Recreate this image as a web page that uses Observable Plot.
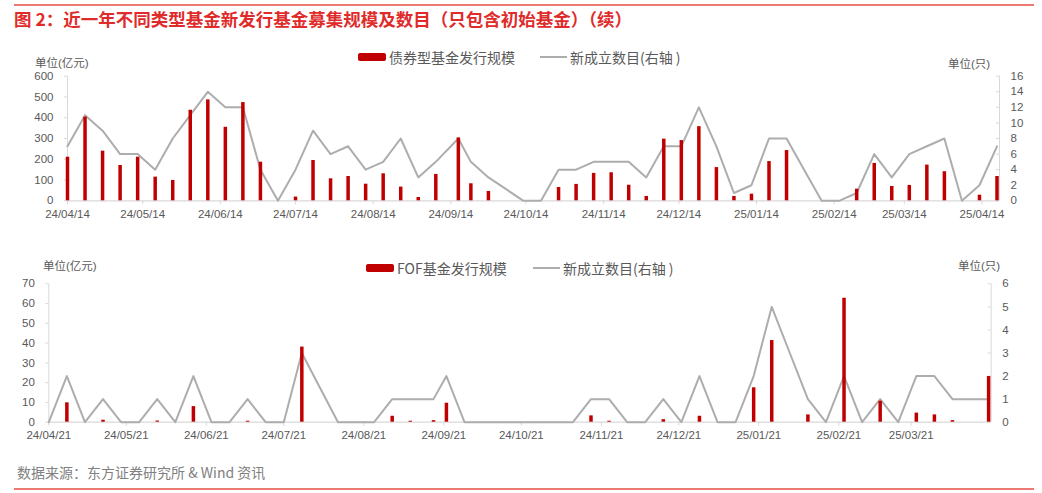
<!DOCTYPE html>
<html><head><meta charset="utf-8">
<script src="https://cdn.jsdelivr.net/npm/d3@7"></script>
<script src="https://cdn.jsdelivr.net/npm/@observablehq/plot@0.6"></script>
<style>
body{margin:0;background:#fff;width:1042px;height:493px;position:relative;overflow:hidden;font-family:"Liberation Sans","Noto Sans CJK SC",sans-serif;}
.abs{position:absolute;white-space:nowrap;}
.lg{font-size:14px;color:#595959;line-height:18px;font-family:"Noto Sans CJK SC","Liberation Sans",sans-serif;}
.unit{font-size:11.5px;color:#595959;line-height:12px;font-family:"Liberation Sans","Noto Sans CJK SC",sans-serif;}
</style></head><body>
<div class="abs" style="left:14px;top:4px;width:1020px;height:2px;background:#EC7A72"></div>
<div class="abs" style="left:14px;top:8px;font-size:17.5px;line-height:22px;color:#E02B2B;font-weight:bold;font-family:'Noto Sans CJK SC',sans-serif;">图 2：近一年不同类型基金新发行基金募集规模及数目（只包含初始基金）（续）</div>

<div class="abs" id="c1" style="left:0;top:45px;"></div>
<div class="abs" id="c2" style="left:0;top:250px;"></div>

<div class="abs" style="left:358px;top:53px;width:28px;height:8px;background:#C00000;border-radius:2px"></div>
<div class="abs lg" style="left:389px;top:48px;">债券型基金发行规模</div>
<div class="abs" style="left:540px;top:56px;width:27px;height:2px;background:#ADADAD"></div>
<div class="abs lg" style="left:570px;top:48px;">新成立数目(右轴 )</div>
<div class="abs unit" style="left:35px;top:57px;">单位(亿元)</div>
<div class="abs unit" style="left:948px;top:58px;">单位(只)</div>

<div class="abs" style="left:366px;top:264px;width:28px;height:8px;background:#C00000;border-radius:2px"></div>
<div class="abs lg" style="left:397px;top:259px;">FOF基金发行规模</div>
<div class="abs" style="left:533px;top:267px;width:27px;height:2px;background:#ADADAD"></div>
<div class="abs lg" style="left:563px;top:259px;">新成立数目(右轴 )</div>
<div class="abs unit" style="left:43px;top:260px;">单位(亿元)</div>
<div class="abs unit" style="left:958px;top:260px;">单位(只)</div>

<div class="abs" style="left:17px;top:463px;font-size:14px;line-height:18px;color:#808080;font-family:'Noto Sans CJK SC','Liberation Sans',sans-serif;">数据来源：东方证券研究所 &amp; Wind 资讯</div>
<div class="abs" style="left:14px;top:488px;width:1020px;height:2px;background:#EC7A72"></div>

<script>
const bondDates = ["2024-04-14","2024-04-21","2024-04-28","2024-05-05","2024-05-12","2024-05-19","2024-05-26","2024-06-02","2024-06-09","2024-06-16","2024-06-23","2024-06-30","2024-07-07","2024-07-14","2024-07-21","2024-07-28","2024-08-04","2024-08-11","2024-08-18","2024-08-25","2024-09-01","2024-09-08","2024-09-17","2024-09-22","2024-09-29","2024-10-13","2024-10-20","2024-10-27","2024-11-03","2024-11-10","2024-11-17","2024-11-24","2024-12-01","2024-12-08","2024-12-15","2024-12-22","2024-12-29","2025-01-05","2025-01-12","2025-01-19","2025-01-26","2025-02-02","2025-02-09","2025-02-16","2025-02-23","2025-03-02","2025-03-09","2025-03-16","2025-03-23","2025-03-30","2025-04-06","2025-04-13","2025-04-20"];
const bondScale = [210,403,239,170,210,114,98,436,486,354,473,186,0,18,194,106,117,80,130,66,16,127,303,82,45,0,0,64,79,132,135,75,21,297,290,357,160,21,32,189,242,0,0,0,56,180,69,74,172,140,0,27,117];
const bondCount = [7,11,9,6,6,4,8,11,14,12,12,4,0,4,9,6,7,4,5,8,3,5,8,5,3,0,0,4,4,5,5,5,3,7,7,12,7,1,2,8,8,4,0,0,1,6,3,6,7,8,0,2,7];
const bondTicks = ["2024-04-14","2024-05-14","2024-06-14","2024-07-14","2024-08-14","2024-09-14","2024-10-14","2024-11-14","2024-12-14","2025-01-14","2025-02-14","2025-03-14","2025-04-14"];

const fofDates = ["2024-04-21","2024-04-28","2024-05-05","2024-05-12","2024-05-19","2024-05-26","2024-06-02","2024-06-09","2024-06-16","2024-06-23","2024-06-30","2024-07-07","2024-07-14","2024-07-21","2024-07-28","2024-08-11","2024-08-18","2024-08-25","2024-09-01","2024-09-08","2024-09-17","2024-09-22","2024-09-29","2024-10-06","2024-10-13","2024-10-20","2024-10-27","2024-11-03","2024-11-10","2024-11-17","2024-11-24","2024-12-01","2024-12-08","2024-12-15","2024-12-22","2024-12-29","2025-01-05","2025-01-12","2025-01-19","2025-01-26","2025-02-02","2025-02-09","2025-02-16","2025-02-23","2025-03-02","2025-03-09","2025-03-16","2025-03-23","2025-03-30","2025-04-06","2025-04-13","2025-04-20"];
const fofScale = [0,9.8,0,1.0,0,0,0.6,0,7.9,0,0,0.5,0,0,38,0,0,0,3.0,0.5,0.8,9.6,0,0,0,0,0,0,0,3.2,0.5,0,0,1.3,0,3.0,0,0,17.4,41.3,0,3.7,0,62.7,0,10.6,0,4.6,3.7,0.8,0,23.1];
const fofCount = [0,2,0,1,0,0,1,0,2,0,0,1,0,0,3,0,0,0,1,1,1,2,0,0,0,0,0,0,0,1,1,0,0,1,0,2,0,0,2,5,3,1,0,2,0,1,0,2,2,1,1,1];
const fofTicks = ["2024-04-21","2024-05-21","2024-06-21","2024-07-21","2024-08-21","2024-09-21","2024-10-21","2024-11-21","2024-12-21","2025-01-21","2025-02-21","2025-03-21"];

const parse = d3.utcParse("%Y-%m-%d");
const fmt = d3.utcFormat("%y/%m/%d");
const FONT = "'Liberation Sans','Noto Sans CJK SC',sans-serif";

function makeChart(o) {
  const data = o.dates.map((d, i) => ({date: parse(d), v: o.scale[i], c: o.count[i]}));
  const k = o.yMax / o.rMax;
  const x0 = parse(o.domain[0]), x1 = parse(o.domain[1]);
  const W = 1042;
  const msPerPx = (x1 - x0) / (W - o.ml - o.mr);
  const rTicks = d3.range(0, o.rMax + 1e-9, o.rStep).map(v => v * k);
  const lTicks = d3.range(0, o.yMax + 1e-9, o.yStep);
  return Plot.plot({
    width: W, height: o.height,
    marginLeft: o.ml, marginRight: o.mr, marginTop: o.mt, marginBottom: o.mb,
    style: {fontFamily: FONT, fontSize: "11.5px", color: "#595959", background: "transparent", overflow: "visible"},
    x: {type: "utc", domain: [x0, x1]},
    y: {domain: [0, o.yMax]},
    marks: [
      Plot.ruleX([x0, x1], {stroke: "#D9D9D9", strokeWidth: 1}),
      Plot.ruleY([0], {stroke: "#D9D9D9", strokeWidth: 1.2}),
      Plot.axisY({anchor: "left", ticks: lTicks, tickSize: 3, tickPadding: 11, stroke: "#D9D9D9", fill: "#595959", label: null, tickFormat: d => String(d)}),
      Plot.axisY({anchor: "right", ticks: rTicks, tickSize: 0, tickPadding: 11, fill: "#595959", label: null, tickFormat: v => String(Math.round(v / k))}),
      Plot.ruleY(rTicks, {y: d => d, x1: new Date(+x1 - 3 * msPerPx), x2: x1, stroke: "#D9D9D9"}),
      Plot.axisX({ticks: o.ticks.map(parse), tickFormat: fmt, tickSize: 4, tickPadding: o.xPad, stroke: "#D9D9D9", fill: "#595959", label: null}),
      Plot.line(data, {x: "date", y: d => d.c * k, stroke: "#ADADAD", strokeWidth: 2}),
      Plot.ruleX(data, {x: "date", y: "v", stroke: "#C00000", strokeWidth: 3.5})
    ]
  });
}

document.getElementById("c1").append(makeChart({
  dates: bondDates, scale: bondScale, count: bondCount, ticks: bondTicks,
  domain: ["2024-04-14", "2025-04-21"], yMax: 600, yStep: 100, rMax: 16, rStep: 2,
  height: 180, ml: 67, mr: 43, mt: 30.7, mb: 24.7, xPad: 5
}));
document.getElementById("c2").append(makeChart({
  dates: fofDates, scale: fofScale, count: fofCount, ticks: fofTicks,
  domain: ["2024-04-21", "2025-04-21"], yMax: 70, yStep: 10, rMax: 6, rStep: 1,
  height: 195, ml: 48.3, mr: 51.3, mt: 33.3, mb: 23.3, xPad: 4.5
}));
</script>
</body></html>
